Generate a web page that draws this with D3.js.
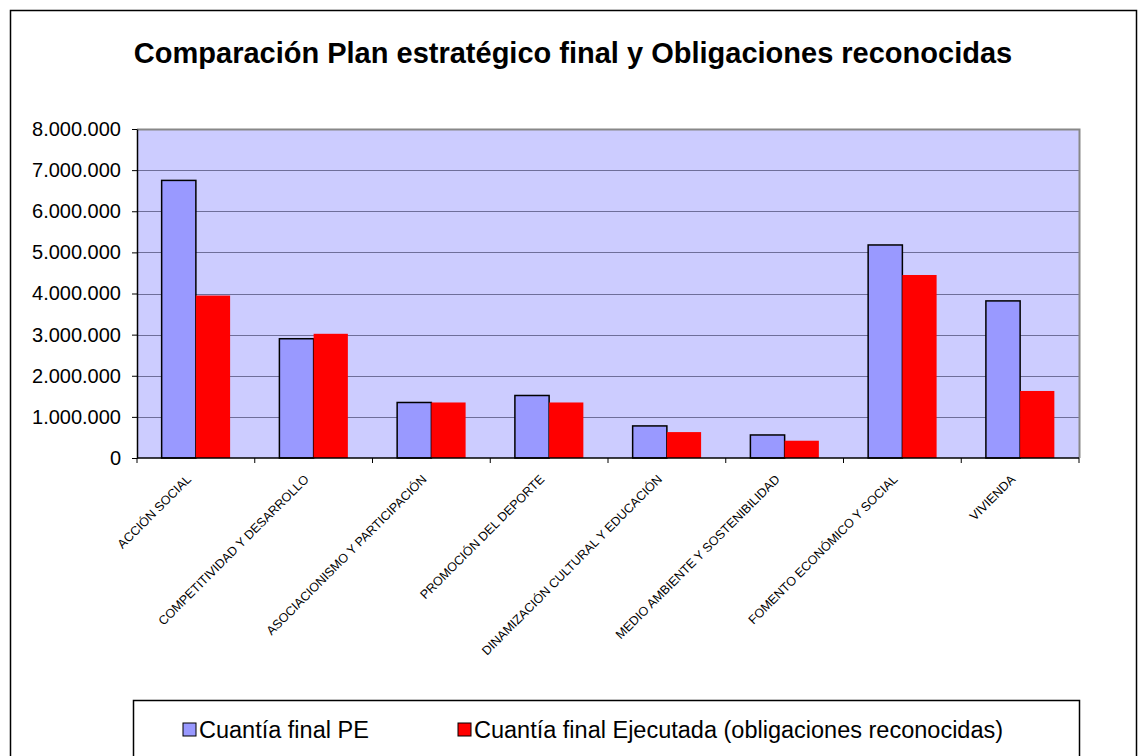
<!DOCTYPE html>
<html>
<head>
<meta charset="utf-8">
<script src="https://cdn.jsdelivr.net/npm/d3@7"></script>
<style>
  body { margin: 0; background: #fff; }
  svg { display: block; font-family: Arial, "Liberation Sans", sans-serif; }
</style>
</head>
<body>
<script>
var width = 1146,
    height = 756;

// data
var categories = ["ACCIÓN SOCIAL", "COMPETITIVIDAD Y DESARROLLO", "ASOCIACIONISMO Y PARTICIPACIÓN",
  "PROMOCIÓN DEL DEPORTE", "DINAMIZACIÓN CULTURAL Y EDUCACIÓN", "MEDIO AMBIENTE Y SOSTENIBILIDAD",
  "FOMENTO ECONÓMICO Y SOCIAL", "VIVIENDA"];
var seriesNames = ["Cuantía final PE", "Cuantía final Ejecutada (obligaciones reconocidas)"];
var plan = [6750000, 2900000, 1350000, 1520000, 780000, 560000, 5180000, 3820000];
var ejecutado = [3950000, 3020000, 1350000, 1350000, 630000, 420000, 4450000, 1630000];
var yTicks = [0, 1000000, 2000000, 3000000, 4000000, 5000000, 6000000, 7000000, 8000000];

var plot = {left: 137, top: 129, right: 1079, bottom: 458};

var svg = d3.select("body").append("svg")
    .attr("width", width)
    .attr("height", height);

// outer chart frame
svg.append("rect")
    .attr("x", 10.5).attr("y", 10.5)
    .attr("width", 1126).attr("height", 770)
    .attr("fill", "#fff").attr("stroke", "#000").attr("stroke-width", 1.5);

svg.append("text")
    .attr("x", 573).attr("y", 63)
    .attr("text-anchor", "middle")
    .style("font-size", "29px").style("font-weight", "bold")
    .text("Comparación Plan estratégico final y Obligaciones reconocidas");

var x = d3.scaleBand()
    .domain(categories)
    .range([plot.left, plot.right]);

var inner = d3.scaleBand()
    .domain([0, 1])
    .range([0, x.bandwidth()])
    .paddingInner(0)
    .paddingOuter(0.72);

var y = d3.scaleLinear()
    .domain([0, 8000000])
    .range([plot.bottom, plot.top]);

var fmt = d3.formatLocale({decimal: ",", thousands: ".", grouping: [3], currency: ["", "€"]}).format(",d");

// plot background
svg.append("rect")
    .attr("x", plot.left).attr("y", plot.top)
    .attr("width", plot.right - plot.left).attr("height", plot.bottom - plot.top)
    .attr("fill", "#ccccff");

// gridlines
svg.append("g")
    .selectAll("line").data(yTicks.slice(1, -1))
  .enter().append("line")
    .attr("x1", plot.left).attr("x2", plot.right)
    .attr("y1", d => Math.round(y(d)) + 0.5).attr("y2", d => Math.round(y(d)) + 0.5)
    .attr("stroke", "#6e6e9a").attr("stroke-width", 1);

// plot border (grey)
svg.append("path")
    .attr("d", "M" + plot.left + "," + (plot.top + 0.5) + "H" + (plot.right + 0.5) + "V" + plot.bottom)
    .attr("fill", "none").attr("stroke", "#888").attr("stroke-width", 2);

var groups = svg.append("g")
    .selectAll("g").data(categories)
  .enter().append("g")
    .attr("transform", d => "translate(" + x(d) + ",0)");

groups.append("rect")
    .attr("x", inner(0))
    .attr("y", (d, i) => y(plan[i]))
    .attr("width", inner.bandwidth())
    .attr("height", (d, i) => y(0) - y(plan[i]))
    .attr("fill", "#9999ff")
    .attr("stroke", "#000").attr("stroke-width", 1.5);

groups.append("rect")
    .attr("x", inner(1))
    .attr("y", (d, i) => y(ejecutado[i]))
    .attr("width", inner.bandwidth())
    .attr("height", (d, i) => y(0) - y(ejecutado[i]))
    .attr("fill", "#ff0000");

// y axis
var yAxis = svg.append("g")
    .attr("transform", "translate(" + plot.left + ",0)")
    .call(d3.axisLeft(y).tickValues(yTicks).tickFormat(fmt).tickSize(5).tickSizeOuter(0));
yAxis.select(".domain").attr("stroke", "#000").attr("stroke-width", 1.5);
yAxis.selectAll(".tick line").attr("stroke", "#000");
yAxis.selectAll("text")
    .attr("x", -16)
    .style("font-size", "20px")
    .style("font-family", "Arial, 'Liberation Sans', sans-serif")
    .attr("fill", "#000");

// x axis
var xAxis = svg.append("g")
    .attr("transform", "translate(0," + plot.bottom + ")");
xAxis.append("line")
    .attr("x1", plot.left).attr("x2", plot.right)
    .attr("stroke", "#000").attr("stroke-width", 1.5);
xAxis.selectAll(".tk").data(d3.range(categories.length + 1))
  .enter().append("line")
    .attr("x1", i => plot.left + i * x.step()).attr("x2", i => plot.left + i * x.step())
    .attr("y1", 0).attr("y2", 5)
    .attr("stroke", "#000");
xAxis.selectAll(".cat").data(categories)
  .enter().append("text")
    .attr("transform", d => "translate(" + (x(d) + x.bandwidth() / 2 - 4) + ",22) rotate(-45)")
    .attr("text-anchor", "end")
    .style("font-size", "12.5px")
    .attr("fill", "#000")
    .text(d => d);

// legend
svg.append("rect")
    .attr("x", 133.5).attr("y", 700.5)
    .attr("width", 946).attr("height", 80)
    .attr("fill", "#fff").attr("stroke", "#000").attr("stroke-width", 1.5);

var legendX = [183, 458];
var legendColor = ["#9999ff", "#ff0000"];
var leg = svg.append("g").selectAll("g").data(seriesNames)
  .enter().append("g")
    .attr("transform", (d, i) => "translate(" + legendX[i] + ",723)");
leg.append("rect")
    .attr("width", 13).attr("height", 13)
    .attr("fill", (d, i) => legendColor[i])
    .attr("stroke", "#000").attr("stroke-width", 1);
leg.append("text")
    .attr("x", 16).attr("y", 15)
    .style("font-size", "23.5px")
    .text(d => d);
</script>
</body>
</html>
